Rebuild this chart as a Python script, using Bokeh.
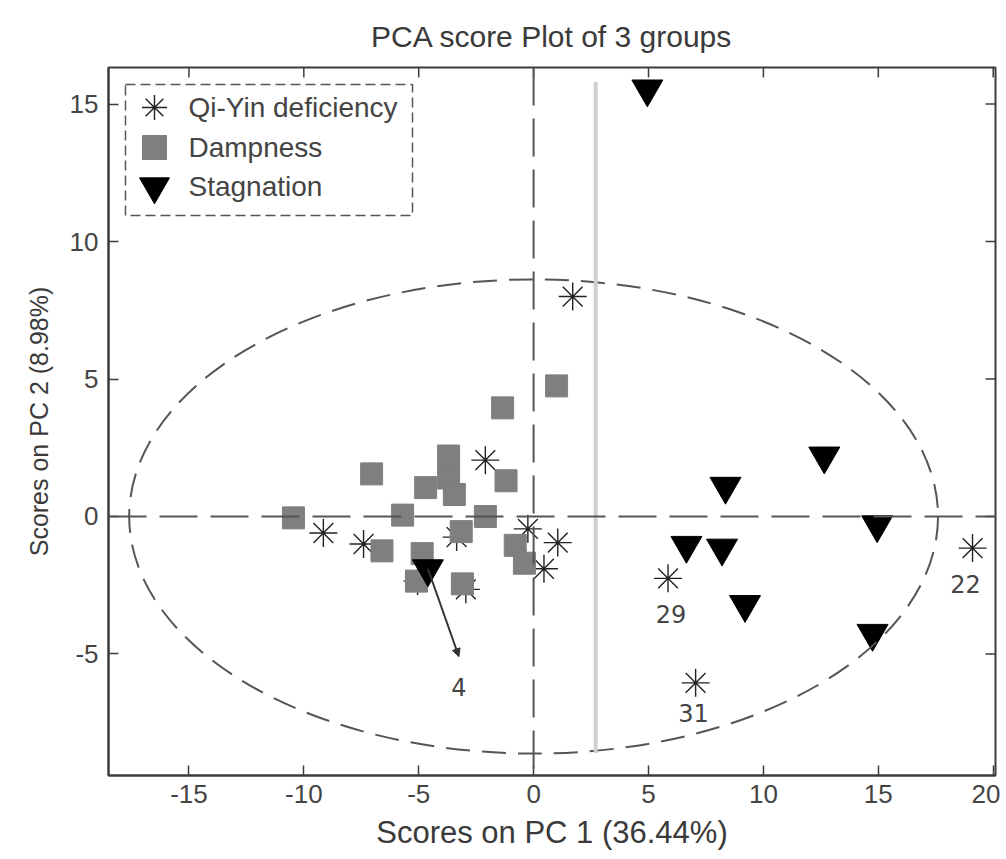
from bokeh.plotting import figure
from bokeh.models import Range1d, FixedTicker, Span, Arrow, NormalHead, ColumnDataSource
from bokeh.core.properties import value
from bokeh.embed import file_html
from bokeh.resources import INLINE

# ---------------- data ----------------
qiyin_x = [1.7, -2.1, -9.15, -7.4, -3.35, -0.25, 1.05, 0.45, -5.05, -2.95, 5.85, 7.05, 19.1]
qiyin_y = [8.0, 2.05, -0.6, -1.0, -0.75, -0.45, -0.95, -1.9, -2.35, -2.65, -2.25, -6.05, -1.15]

damp_x = [1.0, -1.35, -3.7, -7.05, -1.2, -4.7, -3.7, -3.45, -10.45, -5.7, -2.1,
          -3.15, -6.6, -0.8, -0.4, -4.85, -5.1, -3.1]
damp_y = [4.75, 3.95, 2.2, 1.55, 1.3, 1.05, 1.4, 0.8, -0.05, 0.05, 0.0,
          -0.55, -1.25, -1.05, -1.7, -1.35, -2.35, -2.45]

stag_x = [4.95, 12.65, 8.35, 14.95, 6.65, 8.2, 9.2, 14.75, -4.6]
stag_y = [15.55, 2.2, 1.1, -0.3, -1.05, -1.15, -3.2, -4.25, -1.9]

series_names = ["Qi-Yin deficiency", "Dampness", "Stagnation"]

# labelled outliers (index into the Qi-Yin series)
qiyin_label_idx = [12, 10, 11]
qiyin_label_txt = ["22", "29", "31"]

# sample 4 (stagnation) with arrow
stag_label_idx = 8
stag_label_txt = "4"
arrow_end_x = -3.25
arrow_end_y = -5.1

# confidence ellipse
ell_cx, ell_cy, ell_w, ell_h = 0.0, 0.0, 35.2, 17.25

# grey separator line
sep_x, sep_y0, sep_y1 = 2.7, -8.6, 15.8

x_ticks = [-15, -10, -5, 0, 5, 10, 15, 20]
y_ticks = [-5, 0, 5, 10, 15]

# ---------------- styling ----------------
FONT = "Liberation Sans"
AX = "#3c3c3c"
TXT = "#444444"
FW, FH = 887, 708
TICK = 10

p = figure(frame_width=FW, frame_height=FH,
           x_range=Range1d(-18.5, 20.1), y_range=Range1d(-9.42, 16.33),
           output_backend="svg", toolbar_location=None,
           min_border_left=108, min_border_right=5,
           min_border_top=67, min_border_bottom=84,
           x_axis_label="Scores on PC 1 (36.44%)",
           y_axis_label="Scores on PC 2 (8.98%)",
           title="PCA score Plot of 3 groups")
p.extra_x_ranges = {"px": Range1d(0, FW)}
p.extra_y_ranges = {"px": Range1d(0, FH)}
p.grid.visible = False
p.outline_line_color = AX
p.outline_line_width = 2
p.background_fill_color = "white"
p.border_fill_color = "white"

p.title.align = "center"
p.title.text_font = FONT
p.title.text_font_size = "30px"
p.title.text_font_style = "normal"
p.title.text_color = "#3a3a3a"
p.title.standoff = 29


def style_axis(ax, ticks):
    ax.ticker = FixedTicker(ticks=ticks)
    ax.major_label_overrides = {t: str(t) for t in ticks}
    ax.major_tick_in = TICK
    ax.major_tick_out = 0
    ax.minor_tick_in = 0
    ax.minor_tick_out = 0
    ax.axis_line_color = AX
    ax.axis_line_width = 2
    ax.major_tick_line_color = AX
    ax.major_tick_line_width = 1.5
    ax.major_label_text_font = FONT
    ax.major_label_text_color = TXT
    ax.major_label_text_font_size = "26px"
    ax.axis_label_text_font = FONT
    ax.axis_label_text_font_style = "normal"
    ax.axis_label_text_color = "#3a3a3a"


style_axis(p.xaxis[0], x_ticks)
style_axis(p.yaxis[0], y_ticks)
p.xaxis[0].major_label_standoff = 9
p.xaxis[0].axis_label_text_font_size = "31px"
p.xaxis[0].axis_label_standoff = 9
p.yaxis[0].major_label_standoff = 10
p.yaxis[0].axis_label_text_font_size = "25px"
p.yaxis[0].axis_label_standoff = 14

# inward ticks on the top and right edges of the box (at the same tick values)
p.segment(x0=x_ticks, y0=[FH] * len(x_ticks), x1=x_ticks, y1=[FH - TICK] * len(x_ticks),
          y_range_name="px", line_color=AX, line_width=1.5)
p.segment(x0=[FW] * len(y_ticks), y0=y_ticks, x1=[FW - TICK] * len(y_ticks), y1=y_ticks,
          x_range_name="px", line_color=AX, line_width=1.5)

# ---------------- glyphs ----------------
STAR = dict(marker="asterisk", size=28, line_color="#222222", line_width=1.4)
SQUARE = dict(marker="square", size=22, fill_color="#7f7f7f", line_color="#7f7f7f")
TRI = dict(marker="inverted_triangle", size=31, fill_color="black", line_color="black")

p.scatter(qiyin_x, qiyin_y, **STAR)
p.scatter(damp_x, damp_y, **SQUARE)
p.scatter(stag_x, stag_y, **TRI)

# confidence ellipse
p.ellipse(x=[ell_cx], y=[ell_cy], width=[ell_w], height=[ell_h],
          fill_color=None, line_color="#555555", line_width=2, line_dash="24 12")

# grey separator
p.segment(x0=[sep_x], y0=[sep_y0], x1=[sep_x], y1=[sep_y1],
          line_color="#cfcfcf", line_width=4)

# dashed zero lines
p.add_layout(Span(location=0, dimension="width", line_color="#555555",
                  line_width=2, line_dash="38 13"))
p.add_layout(Span(location=0, dimension="height", line_color="#555555",
                  line_width=2, line_dash="38 13"))

# sample labels
lab_src = ColumnDataSource(dict(
    x=[qiyin_x[i] for i in qiyin_label_idx],
    y=[qiyin_y[i] for i in qiyin_label_idx],
    t=qiyin_label_txt,
    xo=[-7, 3, -2],
    yo=[36, 36, 30]))
p.text(x="x", y="y", text="t", source=lab_src, x_offset="xo", y_offset="yo",
       text_align="center", text_baseline="middle",
       text_font=value("DejaVu Sans"), text_font_size="24px", text_color=TXT)

# arrow to sample 4
p.add_layout(Arrow(x_start=stag_x[stag_label_idx], y_start=stag_y[stag_label_idx],
                   x_end=arrow_end_x, y_end=arrow_end_y,
                   line_color="#333333", line_width=2,
                   end=NormalHead(size=8, fill_color="#333333", line_color="#333333")))
p.text(x=[arrow_end_x], y=[arrow_end_y], text=[stag_label_txt], y_offset=30,
       text_align="center", text_baseline="middle",
       text_font=value("DejaVu Sans"), text_font_size="24px", text_color=TXT)

# ---------------- legend (drawn in frame pixel space) ----------------
lg_left, lg_top, lg_w, lg_h = 17, 17, 287, 131
p.rect(x=[lg_left + lg_w / 2], y=[FH - lg_top - lg_h / 2], width=[lg_w], height=[lg_h],
       x_range_name="px", y_range_name="px",
       fill_color="white", line_color="#555555", line_width=1.5, line_dash="10 5")
row_y = [FH - 40, FH - 80, FH - 119]
for st, ry in zip([dict(STAR, size=25), dict(SQUARE, size=24), dict(TRI, size=30)], row_y):
    p.scatter([46], [ry], x_range_name="px", y_range_name="px", **st)
p.text(x=[80] * 3, y=row_y, text=series_names, x_range_name="px", y_range_name="px",
       text_align="left", text_baseline="middle",
       text_font=value(FONT), text_font_size="28px", text_color=TXT)

open("out.html", "w").write(file_html(p, INLINE))
